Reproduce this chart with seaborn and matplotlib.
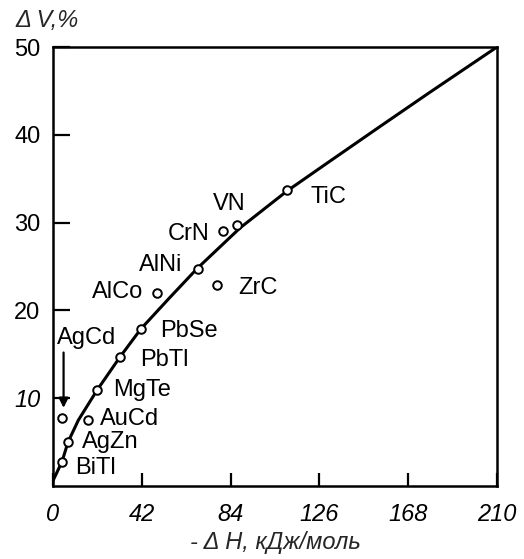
import matplotlib
matplotlib.use("Agg")
import matplotlib.pyplot as plt
import seaborn as sns
import pandas as pd

# Trend curve of volume change vs. formation enthalpy
curve_dh = [0, 4.3, 7.1, 12, 20.8, 31.7, 41.6, 55, 68.3, 88.5, 110.7, 131, 155, 178, 202, 210]
curve_dv = [0.6, 2.8, 5.0, 7.5, 10.9, 14.7, 17.9, 21.4, 24.8, 29.4, 33.6, 37.0, 41.0, 44.8, 48.7, 50]

# Individual compounds
compounds = ["BiTl", "AgZn", "AgCd", "AuCd", "MgTe", "PbTl", "PbSe", "AlCo", "AlNi", "ZrC", "CrN", "VN", "TiC"]
compound_dh = [4.3, 7.1, 4.3, 16.6, 20.8, 31.7, 41.6, 49.2, 68.6, 77.6, 80.4, 87.0, 110.7]
compound_dv = [2.7, 5.0, 7.8, 7.5, 10.9, 14.7, 17.9, 22.0, 24.7, 22.9, 29.0, 29.7, 33.7]

# Label anchor (left edge, vertical centre) for each compound
label_dh = [10.4, 13.7, 1.9, 22.2, 28.4, 41.2, 50.6, 18.4, 40.7, 87.5, 54.4, 75.7, 121.6]
label_dv = [2.0, 5.0, 16.9, 7.6, 10.9, 14.4, 17.6, 22.1, 25.2, 22.6, 28.7, 32.1, 32.9]

x_ticks = [0, 42, 84, 126, 168, 210]
y_ticks = [10, 20, 30, 40, 50]

sns.set_theme(style="ticks")
plt.rcParams["font.family"] = ["Liberation Sans", "DejaVu Sans"]

fig = plt.figure(figsize=(5.24, 5.59), dpi=100)
ax = fig.add_axes([53 / 524, 1 - 486 / 559, 444 / 524, 439 / 559])

curve = pd.DataFrame({"dh": curve_dh, "dv": curve_dv})
sns.lineplot(data=curve, x="dh", y="dv", ax=ax, color="black", linewidth=2.2,
             sort=False, estimator=None)

points = pd.DataFrame({"dh": compound_dh, "dv": compound_dv, "name": compounds})
sns.scatterplot(data=points, x="dh", y="dv", ax=ax, s=38, facecolor="white",
                edgecolor="black", linewidth=1.4, zorder=5)

for name, lx, ly in zip(compounds, label_dh, label_dv):
    ax.text(lx, ly, name, fontsize=17, ha="left", va="center", color="black")

# Arrow pointing from the AgCd label down to its point
ax.annotate("", xy=(5.0, 8.9), xytext=(5.0, 15.2),
            arrowprops=dict(arrowstyle="-|>", color="black", lw=1.6,
                            mutation_scale=14, shrinkA=0, shrinkB=0))

ax.set_xlim(0, 210)
ax.set_ylim(0, 50)
ax.set_xticks(x_ticks)
ax.set_yticks(y_ticks)
ax.set_xticklabels([str(v) for v in x_ticks], fontsize=17, fontstyle="italic")
ax.set_yticklabels([str(v) for v in y_ticks], fontsize=17)
ax.get_yticklabels()[0].set_fontstyle("italic")
ax.tick_params(axis="y", direction="in", length=12, width=1.6, pad=9, colors="black")
ax.tick_params(axis="x", direction="in", length=9.5, width=1.6, pad=12, colors="black")

for side in ["left", "right", "top", "bottom"]:
    ax.spines[side].set_visible(True)
    ax.spines[side].set_linewidth(1.8)
    ax.spines[side].set_color("black")

ax.set_xlabel("- Δ H, кДж/моль", fontsize=17, fontstyle="italic", labelpad=4)
ax.set_ylabel("")
fig.text(15 / 524, 1 - 21 / 559, "Δ V,%", fontsize=17, fontstyle="italic",
         ha="left", va="center")

fig.savefig("out.png", dpi=100)
